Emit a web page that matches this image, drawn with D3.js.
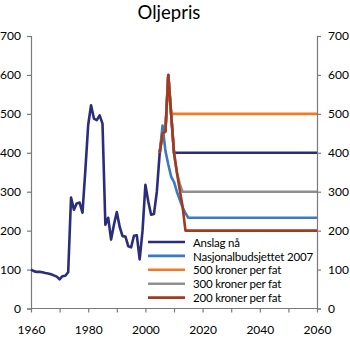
<!DOCTYPE html>
<html><head><meta charset="utf-8">
<script src="https://cdn.jsdelivr.net/npm/d3@7"></script>
<style>body{margin:0;background:#fff}svg{display:block}text{font-family:Lato,"Open Sans",sans-serif;fill:#000}</style>
</head><body><svg id="c" width="350" height="340"></svg>
<script>
const title = "Oljepris";
const histYears = d3.range(1960, 2006);
const histValues = [100,96,94,94,93,91,90,88,85,82,75,83,84,93,285,254,270,272,246,355,472,522,488,484,496,475,215,233,177,215,248,210,186,185,160,157,187,188,126,200,318,275,241,243,300,400];
const anslagYears = [2006,2007,2008,2009,2010,2060];
const anslagValues = [450,455,600,500,400,400];
const nbYears = [2005,2006,2007,2008,2009,2010,2011,2012,2013,2014,2015,2060];
const nbValues = [400,470,405,370,339,325,300,280,260,245,233,233];
const s500Years = [2005,2006,2007,2008,2009,2060];
const s500Values = [400,450,455,600,500,500];
const s300Years = [2005,2006,2007,2008,2009,2010,2011,2012,2013,2060];
const s300Values = [400,450,455,600,500,400,350,320,300,300];
const s200Years = [2005,2006,2007,2008,2009,2010,2011,2012,2013,2014,2060];
const s200Values = [400,450,455,600,500,400,350,305,262,200,200];
const seriesNames = ["Anslag nå","Nasjonalbudsjettet 2007","500 kroner per fat","300 kroner per fat","200 kroner per fat"];
const seriesColors = ["#2b2d7c","#3a7ac4","#f47a20","#8f8f8f","#a23a1f"];
const yTicks = [0,100,200,300,400,500,600,700];
const xTicks = [1960,1970,1980,1990,2000,2010,2020,2030,2040,2050,2060];
const xLabels = [1960,1980,2000,2020,2040,2060];

const svg = d3.select("#c");
const x = d3.scaleLinear().domain([1960,2060]).range([31,317]);
const y = d3.scaleLinear().domain([0,700]).range([308.5,36]);
const axisCol = "#7a7a7a";
const FONT = "Lato,'Open Sans',sans-serif";

svg.append("text").attr("x",169).attr("y",19).attr("text-anchor","middle").style("font-size","18.5px").style("font-family",FONT).text(title);

const gl = svg.append("g").attr("transform","translate(31,0)").call(d3.axisLeft(y).tickValues(yTicks).tickSize(4).tickPadding(6));
const gr = svg.append("g").attr("transform","translate(317,0)").call(d3.axisRight(y).tickValues(yTicks).tickSize(4).tickPadding(7));
const gb = svg.append("g").attr("transform","translate(0,308.5)").call(d3.axisBottom(x).tickValues(xTicks).tickSize(4).tickFormat(d => xLabels.includes(d) ? d : "").tickPadding(13));
[gl,gr,gb].forEach(g => {
  g.select(".domain").attr("stroke",axisCol).attr("stroke-width",1.2);
  g.selectAll(".tick line").attr("stroke",axisCol).attr("stroke-width",1.2);
  g.selectAll(".tick text").style("font-size","12px").style("font-family",FONT).attr("fill","#000");
});
gb.select(".domain").attr("d","M31,0H317");

const line = d3.line().x(d=>x(d[0])).y(d=>y(d[1]));
const zip = (a,b) => a.map((v,i)=>[v,b[i]]);
const navyData = zip(histYears,histValues).concat(zip(anslagYears,anslagValues));
const all = [navyData, zip(nbYears,nbValues), zip(s500Years,s500Values), zip(s300Years,s300Values), zip(s200Years,s200Values)];
all.forEach((d,i)=>{
  svg.append("path").datum(d).attr("d",line).attr("fill","none").attr("stroke",seriesColors[i]).attr("stroke-width",2.6).attr("stroke-linejoin","round");
});

const lg = svg.append("g");
seriesNames.forEach((n,i)=>{
  const yy = 242 + i*13.9;
  lg.append("rect").attr("x",146).attr("y",yy-4).attr("width",40).attr("height",8).attr("fill","#fff");
  lg.append("line").attr("x1",148).attr("x2",185).attr("y1",yy).attr("y2",yy).attr("stroke",seriesColors[i]).attr("stroke-width",2.6);
  lg.append("text").attr("x",193).attr("y",yy+4.6).style("font-size","11.5px").style("letter-spacing","-0.2px").style("font-family",FONT).text(n);
});
</script></body></html>
